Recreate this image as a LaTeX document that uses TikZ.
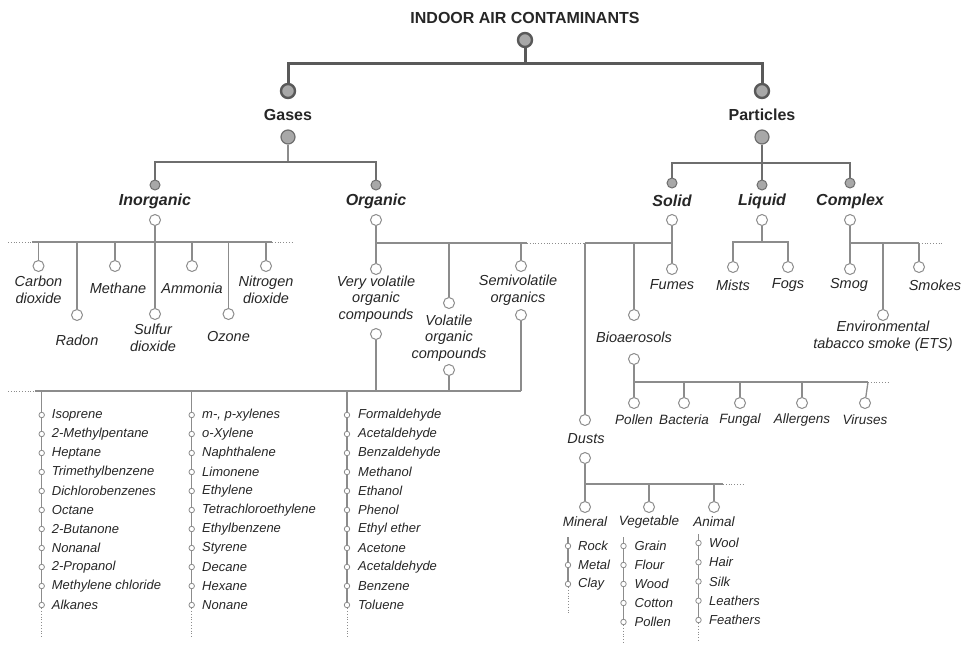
\documentclass[tikz,border=0pt]{standalone}
\usepackage{fontspec}
\setmainfont{Liberation Sans}
\usepackage{tikz}
\usetikzlibrary{calc}
\pgfdeclarelayer{bg}
\pgfsetlayers{bg,main}
\definecolor{lineD}{HTML}{595959}
\definecolor{lineM}{HTML}{6E6E6E}
\definecolor{lineL}{HTML}{8C8C8C}
\definecolor{dotG}{HTML}{A8A8A8}
\definecolor{txt}{HTML}{262626}
\tikzset{
  topdot/.style={circle, draw=lineD, fill=dotG, line width=2.4pt, minimum size=14pt, inner sep=0pt},
  middot/.style={circle, draw=lineM, fill=dotG, line width=1.2pt, minimum size=14pt, inner sep=0pt},
  smalldot/.style={circle, draw=lineM, fill=dotG, line width=1pt, minimum size=10pt, inner sep=0pt},
  opendot/.style={circle, draw=lineL, fill=white, line width=1pt, minimum size=11pt, inner sep=0pt},
  listdot/.style={circle, draw=lineL, fill=white, line width=0.8pt, minimum size=5.5pt, inner sep=0pt},
  headlbl/.style={font=\fontsize{16}{18}\selectfont\bfseries, text=txt, inner sep=0pt},
  classlbl/.style={font=\fontsize{16}{18}\selectfont\bfseries\itshape, text=txt, inner sep=0pt},
  lbl/.style={font=\fontsize{14.5}{16.5}\selectfont\itshape, align=center, text=txt, inner sep=0pt},
  smlbl/.style={font=\fontsize{13.5}{15.5}\selectfont\itshape, text=txt, inner sep=0pt},
  itemlbl/.style={font=\fontsize{13}{15}\selectfont\itshape, text=txt, anchor=west, inner sep=0pt},
  thickline/.style={draw=lineD, line width=3pt},
  medline/.style={draw=lineM, line width=2pt},
  thinline/.style={draw=lineL, line width=1.3pt},
  dotline/.style={draw=lineL, line width=0.8pt, dotted},
}

\begin{document}
\begin{tikzpicture}[x=1pt, y=-1pt]
    \useasboundingbox (0,0) rectangle (966,645);

    % top levels
    \node [headlbl] (title) at (525,18) {INDOOR AIR CONTAMINANTS};
    \node [topdot] (root) at (525,40) {};
    \node [topdot] (gasT) at (288,91) {};
    \node [headlbl] (gasL) at (288,115) {Gases};
    \node [middot] (gasB) at (288,137) {};
    \node [topdot] (partT) at (762,91) {};
    \node [headlbl] (partL) at (762,115) {Particles};
    \node [middot] (partB) at (762,137) {};

    \node [smalldot] (inoT) at (155,185) {};
    \node [classlbl] (inoL) at (155,201) {Inorganic};
    \node [opendot] (inoB) at (155,220) {};
    \node [smalldot] (orgT) at (376,185) {};
    \node [classlbl] (orgL) at (376,201) {Organic};
    \node [opendot] (orgB) at (376,220) {};
    \node [smalldot] (solT) at (672,183) {};
    \node [classlbl] (solL) at (672,201) {Solid};
    \node [opendot] (solB) at (672,220) {};
    \node [smalldot] (liqT) at (762,185) {};
    \node [classlbl] (liqL) at (762,201) {Liquid};
    \node [opendot] (liqB) at (762,220) {};
    \node [smalldot] (comT) at (850,183) {};
    \node [classlbl] (comL) at (850,201) {Complex};
    \node [opendot] (comB) at (850,220) {};

    % inorganic
    \node [opendot] (carbC) at (38.5,266) {};
    \node [lbl] (carbL) at (38.5,290) {Carbon\\dioxide};
    \node [opendot] (radC) at (77,315) {};
    \node [lbl] (radL) at (77,340) {Radon};
    \node [opendot] (methC) at (115,266) {};
    \node [lbl] (methL) at (118,288) {Methane};
    \node [opendot] (sulfC) at (155,314) {};
    \node [lbl] (sulfL) at (153,338) {Sulfur\\dioxide};
    \node [opendot] (ammC) at (192,266) {};
    \node [lbl] (ammL) at (192,288) {Ammonia};
    \node [opendot] (ozC) at (228.5,314) {};
    \node [lbl] (ozL) at (228.5,337) {Ozone};
    \node [opendot] (nitC) at (266,266) {};
    \node [lbl] (nitL) at (266,290) {Nitrogen\\dioxide};

    % organic
    \node [opendot] (vvocT) at (376,269) {};
    \node [lbl] (vvocL) at (376,299) {Very volatile\\organic\\compounds};
    \node [opendot] (vvocB) at (376,334) {};
    \node [opendot] (vocT) at (449,303) {};
    \node [lbl] (vocL) at (449,338) {Volatile\\organic\\compounds};
    \node [opendot] (vocB) at (449,370) {};
    \node [opendot] (svocT) at (521,266) {};
    \node [lbl] (svocL) at (518,290) {Semivolatile\\organics};
    \node [opendot] (svocB) at (521,315) {};

    % VOC lists
    \foreach \name [count=\i from 0] in {Isoprene, 2-Methylpentane, Heptane, Trimethylbenzene, Dichlorobenzenes, Octane, 2-Butanone, Nonanal, 2-Propanol, Methylene chloride, Alkanes} {
        \node [listdot] (a\i) at (41.7,415+19*\i) {};
        \node [itemlbl] (at\i) at (51.7,415+19*\i) {\name};
    }
    \foreach \name [count=\i from 0] in {{m-, p-xylenes}, o-Xylene, Naphthalene, Limonene, Ethylene, Tetrachloroethylene, Ethylbenzene, Styrene, Decane, Hexane, Nonane} {
        \node [listdot] (b\i) at (191.7,415+19*\i) {};
        \node [itemlbl] (bt\i) at (202,415+19*\i) {\name};
    }
    \foreach \name [count=\i from 0] in {Formaldehyde, Acetaldehyde, Benzaldehyde, Methanol, Ethanol, Phenol, Ethyl ether, Acetone, Acetaldehyde, Benzene, Toluene} {
        \node [listdot] (c\i) at (347,415+19*\i) {};
        \node [itemlbl] (ct\i) at (358,415+19*\i) {\name};
    }

    % solid / liquid / complex
    \node [opendot] (fumC) at (672,269) {};
    \node [lbl] (fumL) at (672,285) {Fumes};
    \node [opendot] (bioT) at (634,315) {};
    \node [lbl] (bioL) at (634,337) {Bioaerosols};
    \node [opendot] (bioB) at (634,359) {};
    \node [opendot] (dustT) at (585,420) {};
    \node [lbl] (dustL) at (586,439) {Dusts};
    \node [opendot] (dustB) at (585,458) {};
    \node [opendot] (mistC) at (733,267) {};
    \node [lbl] (mistL) at (733,285) {Mists};
    \node [opendot] (fogC) at (788,267) {};
    \node [lbl] (fogL) at (788,285) {Fogs};
    \node [opendot] (smogC) at (850,269) {};
    \node [lbl] (smogL) at (849,285) {Smog};
    \node [opendot] (etsC) at (883,315) {};
    \node [lbl] (etsL) at (883,336) {Environmental\\tabacco smoke (ETS)};
    \node [opendot] (smokC) at (919,267) {};
    \node [lbl] (smokL) at (935,285) {Smokes};

    % bioaerosols
    \node [opendot] (polC) at (634,403) {};
    \node [smlbl] (polL) at (634,420) {Pollen};
    \node [opendot] (bacC) at (684,403) {};
    \node [smlbl] (bacL) at (684,420) {Bacteria};
    \node [opendot] (funC) at (740,403) {};
    \node [smlbl] (funL) at (740,420) {Fungal};
    \node [opendot] (allC) at (802,403) {};
    \node [smlbl] (allL) at (802,420) {Allergens};
    \node [opendot] (virC) at (865,403) {};
    \node [smlbl] (virL) at (865,420) {Viruses};

    % dusts
    \node [opendot] (minC) at (585,507) {};
    \node [smlbl] (minL) at (585,522) {Mineral};
    \node [opendot] (vegC) at (649,507) {};
    \node [smlbl] (vegL) at (649,522) {Vegetable};
    \node [opendot] (aniC) at (714,507) {};
    \node [smlbl] (aniL) at (714,522) {Animal};
    \foreach \name [count=\i from 0] in {Rock, Metal, Clay} {
        \node [listdot] (m\i) at (568,546+19*\i) {};
        \node [itemlbl] (mt\i) at (578,546+19*\i) {\name};
    }
    \foreach \name [count=\i from 0] in {Grain, Flour, Wood, Cotton, Pollen} {
        \node [listdot] (v\i) at (623.5,546+19*\i) {};
        \node [itemlbl] (vt\i) at (634.5,546+19*\i) {\name};
    }
    \foreach \name [count=\i from 0] in {Wool, Hair, Silk, Leathers, Feathers} {
        \node [listdot] (n\i) at (698.5,543+19.25*\i) {};
        \node [itemlbl] (nt\i) at (709,543+19.25*\i) {\name};
    }

    % bar points
    \coordinate (topbar) at (525,63);
    \coordinate (gasbar) at (288,162);
    \coordinate (partbar) at (762,163);
    \coordinate (inobarL) at (32,242);
    \coordinate (inobarR) at (272,242);
    \coordinate (inodotL) at (8,242);
    \coordinate (inodotR) at (294,242);
    \coordinate (orgbarR) at (527,243);
    \coordinate (orgdotR) at (556,243);
    \coordinate (lowbarL) at (35,391);
    \coordinate (lowbarR) at (521,391);
    \coordinate (lowdotL) at (8,391);
    \coordinate (colA) at (41.7,391);
    \coordinate (colB) at (191.7,391);
    \coordinate (colC) at (347,391);
    \coordinate (colAend) at (41.7,638);
    \coordinate (colBend) at (191.7,638);
    \coordinate (colCend) at (347,638);
    \coordinate (solbarL) at (585,243);
    \coordinate (soldotL) at (558,243);
    \coordinate (liqbar) at (762,242);
    \coordinate (combarR) at (919,243);
    \coordinate (comdotR) at (943,243);
    \coordinate (biobarR) at (868,382);
    \coordinate (biodotR) at (890,382);
    \coordinate (dustbarR) at (723,484);
    \coordinate (dustdotR) at (743,484);
    \coordinate (minTop) at (568,537);
    \coordinate (minEnd) at (568,613);
    \coordinate (vegTop) at (623.5,537);
    \coordinate (vegEnd) at (623.5,644);
    \coordinate (aniTop) at (698.5,534);
    \coordinate (aniEnd) at (698.5,642);

    \begin{pgfonlayer}{bg}
        \draw [thickline] (root) -- (topbar);
        \draw [thickline] (gasT) |- (topbar) -| (partT);
        \draw [thinline] (gasB) -- (gasbar);
        \draw [medline] (inoT) |- (gasbar) -| (orgT);
        \draw [medline] (partB) -- (liqT);
        \draw [medline] (solT) |- (partbar) -| (comT);

        \draw [thinline] (inobarL) -- (inobarR);
        \draw [dotline] (inodotL) -- (inobarL);
        \draw [dotline] (inobarR) -- (inodotR);
        \draw [thinline] (inoB) -- (sulfC);
        \foreach \c in {carbC, radC, methC, ammC, ozC, nitC}
            \draw [thinline] (\c) -- (\c |- inobarL);

        \draw [thinline] (orgB) -- (vvocT);
        \draw [thinline] (vvocT |- orgbarR) -- (orgbarR);
        \draw [dotline] (orgbarR) -- (orgdotR);
        \draw [thinline] (vocT) -- (vocT |- orgbarR);
        \draw [thinline] (svocT) -- (svocT |- orgbarR);

        \draw [thinline] (lowbarL) -- (lowbarR);
        \draw [dotline] (lowdotL) -- (lowbarL);
        \draw [thinline] (vvocB) -- (vvocB |- lowbarR);
        \draw [thinline] (vocB) -- (vocB |- lowbarR);
        \draw [thinline] (svocB) -- (lowbarR);
        \draw [thinline] (colA) -- (a10);
        \draw [thinline] (colB) -- (b10);
        \draw [thinline] (colC) -- (c10);
        \draw [dotline] (a10) -- (colAend);
        \draw [dotline] (b10) -- (colBend);
        \draw [dotline] (c10) -- (colCend);

        \draw [thinline] (solB) -- (fumC);
        \draw [thinline] (solbarL) -- (fumC |- solbarL);
        \draw [dotline] (soldotL) -- (solbarL);
        \draw [thinline] (bioT) -- (bioT |- solbarL);
        \draw [thinline] (solbarL) -- (dustT);
        \draw [thinline] (liqB) -- (liqbar);
        \draw [thinline] (mistC) |- (liqbar) -| (fogC);
        \draw [thinline] (comB) -- (smogC);
        \draw [thinline] (comB |- combarR) -- (combarR);
        \draw [dotline] (combarR) -- (comdotR);
        \draw [thinline] (etsC) -- (etsC |- combarR);
        \draw [thinline] (smokC) -- (combarR);

        \draw [thinline] (bioB) -- (polC);
        \draw [thinline] (bioB |- biobarR) -- (biobarR);
        \draw [dotline] (biobarR) -- (biodotR);
        \foreach \c in {bacC, funC, allC}
            \draw [thinline] (\c) -- (\c |- biobarR);
        \draw [thinline] (virC) -- (biobarR);

        \draw [thinline] (dustB) -- (minC);
        \draw [thinline] (dustB |- dustbarR) -- (dustbarR);
        \draw [dotline] (dustbarR) -- (dustdotR);
        \draw [thinline] (vegC) -- (vegC |- dustbarR);
        \draw [thinline] (aniC) -- (aniC |- dustbarR);
        \draw [thinline] (minTop) -- (m2);
        \draw [thinline] (vegTop) -- (v4);
        \draw [thinline] (aniTop) -- (n4);
        \draw [dotline] (m2) -- (minEnd);
        \draw [dotline] (v4) -- (vegEnd);
        \draw [dotline] (n4) -- (aniEnd);
    \end{pgfonlayer}
\end{tikzpicture}
\end{document}
